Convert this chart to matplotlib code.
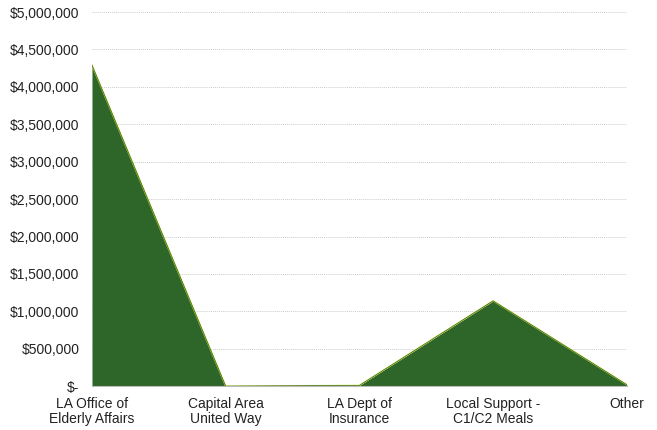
import matplotlib.pyplot as plt
from matplotlib.ticker import FuncFormatter

plt.rcParams['font.family'] = ['Liberation Sans', 'DejaVu Sans']

kategori = ["LA Office of\nElderly Affairs", "Capital Area\nUnited Way", "LA Dept of\nInsurance",
            "Local Support -\nC1/C2 Meals", "Other"]
dana = [4290000, 0, 10000, 1140000, 20000]

def format_dolar(v, pos):
    if v == 0:
        return "$-"
    return f"${v:,.0f}"

fig = plt.figure(figsize=(6.57, 4.3), dpi=100)
ax = fig.add_axes([0.14, 0.102, 0.814, 0.87])

x = list(range(len(kategori)))
ax.fill_between(x, dana, 0, color="#2d6628", linewidth=0)
ax.plot(x, dana, color="#d8e040", linewidth=1.0)
ax.plot(x, dana, color="#2d6628", linewidth=0.5)

ax.set_xlim(0, len(kategori) - 1)
ax.set_ylim(0, 5000000)
ax.set_yticks(range(0, 5000001, 500000))
ax.yaxis.set_major_formatter(FuncFormatter(format_dolar))
ax.set_xticks(x)
ax.set_xticklabels(kategori, linespacing=1.1)
ax.tick_params(axis="both", length=0, labelsize=10, colors="#222222")
ax.tick_params(axis="y", pad=9)
ax.tick_params(axis="x", pad=8)

ax.grid(axis="y", color="#cccccc", linestyle=(0, (1, 1)), linewidth=0.7)
ax.set_axisbelow(True)
for s in ["top", "right", "left"]:
    ax.spines[s].set_visible(False)
ax.spines["bottom"].set_color("#bbbbbb")
ax.spines["bottom"].set_linewidth(0.8)

fig.savefig("out.png", dpi=100)
